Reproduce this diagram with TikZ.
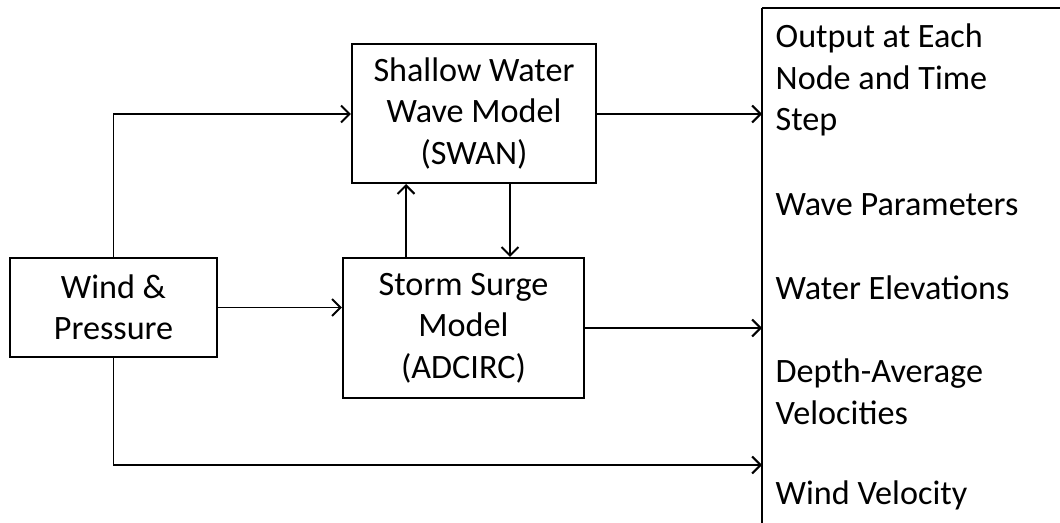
\documentclass[tikz,border=0pt]{standalone}
\usepackage{fontspec}
\setmainfont{Carlito}
\usepackage{tikz}
\usetikzlibrary{arrows.meta}

\begin{document}
\begin{tikzpicture}[x=0.025cm, y=-0.025cm, line width=1.4pt,
	every node/.style={font=\fontsize{24.3}{29.5}\selectfont},
	block/.style={draw, align=center, inner sep=0pt},
	link/.style={-{Straight Barb[length=6pt, width=12pt]}}]
				\useasboundingbox (0,0) rectangle (1060,523);
				\clip (0,0) rectangle (1060,523);
				
				\node[block, minimum width=5.175cm, minimum height=2.475cm] (wind) at (113.5,307.5) {Wind \&\\Pressure};
				\node[block, minimum width=6.1cm, minimum height=3.475cm] (swan) at (474,113.5) {Shallow Water\\Wave Model\\(SWAN)};
				\node[block, minimum width=6.025cm, minimum height=3.5cm] (adcirc) at (463.5,328) {Storm Surge\\Model\\(ADCIRC)};
				
				\draw (762,8) -- (1080,8);
				\draw (762,8) coordinate (otop) -- (762,540) coordinate (obot);
				
				\node[anchor=west, align=left] (o1) at (770,80) {Output at Each\\Node and Time\\Step};
				\node[anchor=west] (o2) at (770,205) {Wave Parameters};
				\node[anchor=west] (o3) at (770,288) {Water Elevations};
				\node[anchor=west, align=left] (o4) at (770,392) {Depth-Average\\Velocities};
				\node[anchor=west] (o5) at (770,495) {Wind Velocity};
				
				\coordinate (in1) at (762,114);
				\coordinate (in2) at (762,328);
				\coordinate (in3) at (762,465);
				
				\draw[link] (wind.north) |- (swan.west |- in1);
				\draw[link] (wind.east) -- (adcirc.west |- wind.east);
				\draw[link] (wind.south) |- (in3);
				\draw[link] (swan.east |- in1) -- (in1);
				\draw[link] (adcirc.east |- in2) -- (in2);
				\draw[link] (adcirc.north -| 406,0) -- (swan.south -| 406,0);
				\draw[link] (swan.south -| 510,0) -- (adcirc.north -| 510,0);
			\end{tikzpicture}
\end{document}
